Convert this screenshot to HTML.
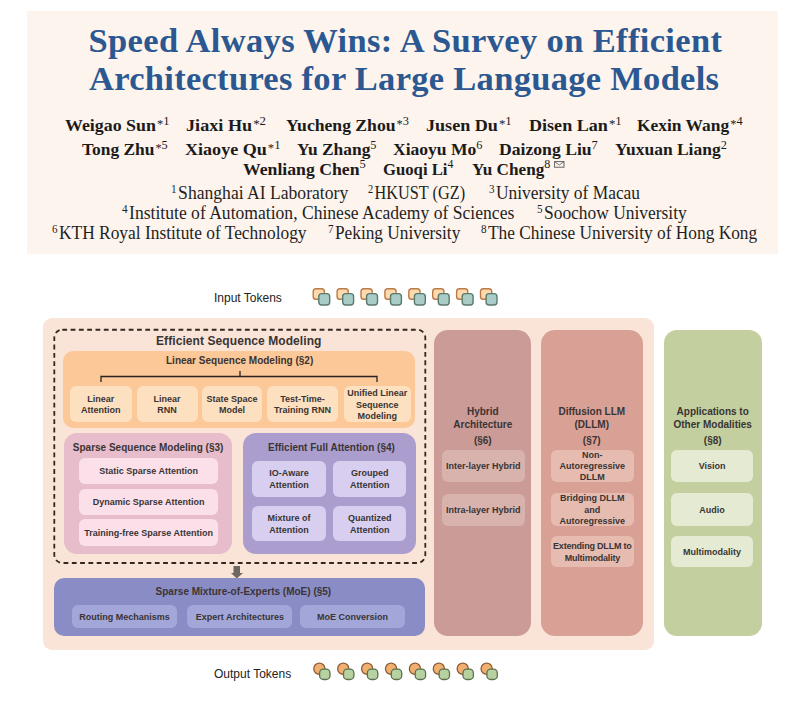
<!DOCTYPE html>
<html><head><meta charset="utf-8">
<style>
*{margin:0;padding:0;box-sizing:border-box}
html,body{width:800px;height:703px;overflow:hidden;background:#fff}
body{position:relative;font-family:"Liberation Sans",sans-serif}
.a{position:absolute}
.nw{white-space:nowrap}
#hdr{left:27px;top:11px;width:751px;height:243px;background:#fdf4ee}
.ttl{position:absolute;font-family:"Liberation Serif",serif;font-weight:bold;color:#2c5891;font-size:34px;line-height:40px;white-space:nowrap;letter-spacing:0.3px}
.au{position:absolute;font-family:"Liberation Serif",serif;font-weight:bold;color:#1b1b1b;font-size:17px;line-height:20px;white-space:nowrap;transform-origin:0 0}
.st{font-weight:normal;font-size:12px;position:relative;top:-3px;margin-left:1px}.sn{font-weight:normal;font-size:12px;position:relative;top:-6.3px}.sa{font-size:11.5px;position:relative;top:-6px;margin-right:1.5px}
.af{position:absolute;font-family:"Liberation Serif",serif;color:#1f1f1f;font-size:18px;line-height:20px;white-space:nowrap;transform-origin:0 0}
.box{position:absolute}
.tx{position:absolute;font-weight:bold;color:#3a3434;white-space:nowrap;text-align:center}
.it{position:absolute;display:flex;align-items:center;justify-content:center;text-align:center;font-weight:bold;font-size:9px;line-height:11.3px;color:#3a3434;border-radius:6px;padding-top:2px}
</style></head>
<body>
<div id="hdr" class="a"></div>
<div class="ttl" style="left:88.5px;top:20.2px;font-size:34.5px;letter-spacing:0.35px">Speed Always Wins: A Survey on Efficient</div>
<div class="ttl" style="left:89px;top:58px;font-size:34.5px;letter-spacing:0.29px">Architectures for Large Language Models</div>

<!-- authors -->
<div class="au" style="left:64.50px;top:116px;transform:scaleX(1.0515)">Weigao Sun<span class="st">*</span><span class="sn">1</span></div>
<div class="au" style="left:186.00px;top:116px;transform:scaleX(1.0685)">Jiaxi Hu<span class="st">*</span><span class="sn">2</span></div>
<div class="au" style="left:286.00px;top:116px;transform:scaleX(1.0363)">Yucheng Zhou<span class="st">*</span><span class="sn">3</span></div>
<div class="au" style="left:426.00px;top:116px;transform:scaleX(1.0641)">Jusen Du<span class="st">*</span><span class="sn">1</span></div>
<div class="au" style="left:529.00px;top:116px;transform:scaleX(1.0636)">Disen Lan<span class="st">*</span><span class="sn">1</span></div>
<div class="au" style="left:637.20px;top:116px;transform:scaleX(1.0255)">Kexin Wang<span class="st">*</span><span class="sn">4</span></div>
<div class="au" style="left:81.50px;top:139.8px;transform:scaleX(1.0241)">Tong Zhu<span class="st">*</span><span class="sn">5</span></div>
<div class="au" style="left:185.25px;top:139.8px;transform:scaleX(1.0626)">Xiaoye Qu<span class="st">*</span><span class="sn">1</span></div>
<div class="au" style="left:297.00px;top:139.8px;transform:scaleX(1.0231)">Yu Zhang<span class="sn">5</span></div>
<div class="au" style="left:392.75px;top:139.8px;transform:scaleX(1.0320)">Xiaoyu Mo<span class="sn">6</span></div>
<div class="au" style="left:499.00px;top:139.8px;transform:scaleX(1.0373)">Daizong Liu<span class="sn">7</span></div>
<div class="au" style="left:614.60px;top:139.8px;transform:scaleX(1.0269)">Yuxuan Liang<span class="sn">2</span></div>
<div class="au" style="left:242.75px;top:159.5px;transform:scaleX(1.0406)">Wenliang Chen<span class="sn">5</span></div>
<div class="au" style="left:382.75px;top:159.5px;transform:scaleX(0.9822)">Guoqi Li<span class="sn">4</span></div>
<div class="au" style="left:471.50px;top:159.5px;transform:scaleX(1.0080)">Yu Cheng<span class="sn">8</span></div>

<!-- affiliations -->
<div class="af" style="left:170.75px;top:182.8px;transform:scaleX(0.9779)"><span class="sa">1</span>Shanghai AI Laboratory</div>
<div class="af" style="left:368.00px;top:182.8px;transform:scaleX(0.9037)"><span class="sa">2</span>HKUST (GZ)</div>
<div class="af" style="left:488.90px;top:182.8px;transform:scaleX(0.9669)"><span class="sa">3</span>University of Macau</div>
<div class="af" style="left:122.00px;top:202.5px;transform:scaleX(0.9766)"><span class="sa">4</span>Institute of Automation, Chinese Academy of Sciences</div>
<div class="af" style="left:537.00px;top:202.5px;transform:scaleX(0.9675)"><span class="sa">5</span>Soochow University</div>
<div class="af" style="left:52.00px;top:223px;transform:scaleX(0.9656)"><span class="sa">6</span>KTH Royal Institute of Technology</div>
<div class="af" style="left:327.50px;top:223px;transform:scaleX(0.9606)"><span class="sa">7</span>Peking University</div>
<div class="af" style="left:480.80px;top:223px;transform:scaleX(0.9633)"><span class="sa">8</span>The Chinese University of Hong Kong</div>
<svg class="a" style="left:554px;top:161px" width="11" height="7" viewBox="0 0 11 7"><rect x="0.6" y="0.6" width="9.4" height="5.6" fill="none" stroke="#555" stroke-width="0.9"/><path d="M0.6 0.6 L5.3 4 L10 0.6" fill="none" stroke="#555" stroke-width="0.8"/></svg>

<!-- Input tokens -->
<div class="tx" style="left:214px;top:291.1px;font-size:12px;line-height:15px;font-weight:normal;color:#222">Input Tokens</div>
<svg class="a" style="left:0;top:0" width="800" height="703" viewBox="0 0 800 703">
<g><rect x="313.20" y="288.8" width="11.2" height="10.4" rx="2.8" fill="#fdd9ad" stroke="#bb7a48" stroke-width="1.4"/><rect x="318.80" y="293.6" width="10.9" height="11.4" rx="3" fill="#a9cdc6" stroke="#597a6f" stroke-width="1.4"/><rect x="337.10" y="288.8" width="11.2" height="10.4" rx="2.8" fill="#fdd9ad" stroke="#bb7a48" stroke-width="1.4"/><rect x="342.70" y="293.6" width="10.9" height="11.4" rx="3" fill="#a9cdc6" stroke="#597a6f" stroke-width="1.4"/><rect x="361.00" y="288.8" width="11.2" height="10.4" rx="2.8" fill="#fdd9ad" stroke="#bb7a48" stroke-width="1.4"/><rect x="366.60" y="293.6" width="10.9" height="11.4" rx="3" fill="#a9cdc6" stroke="#597a6f" stroke-width="1.4"/><rect x="384.90" y="288.8" width="11.2" height="10.4" rx="2.8" fill="#fdd9ad" stroke="#bb7a48" stroke-width="1.4"/><rect x="390.50" y="293.6" width="10.9" height="11.4" rx="3" fill="#a9cdc6" stroke="#597a6f" stroke-width="1.4"/><rect x="408.80" y="288.8" width="11.2" height="10.4" rx="2.8" fill="#fdd9ad" stroke="#bb7a48" stroke-width="1.4"/><rect x="414.40" y="293.6" width="10.9" height="11.4" rx="3" fill="#a9cdc6" stroke="#597a6f" stroke-width="1.4"/><rect x="432.70" y="288.8" width="11.2" height="10.4" rx="2.8" fill="#fdd9ad" stroke="#bb7a48" stroke-width="1.4"/><rect x="438.30" y="293.6" width="10.9" height="11.4" rx="3" fill="#a9cdc6" stroke="#597a6f" stroke-width="1.4"/><rect x="456.60" y="288.8" width="11.2" height="10.4" rx="2.8" fill="#fdd9ad" stroke="#bb7a48" stroke-width="1.4"/><rect x="462.20" y="293.6" width="10.9" height="11.4" rx="3" fill="#a9cdc6" stroke="#597a6f" stroke-width="1.4"/><rect x="480.50" y="288.8" width="11.2" height="10.4" rx="2.8" fill="#fdd9ad" stroke="#bb7a48" stroke-width="1.4"/><rect x="486.10" y="293.6" width="10.9" height="11.4" rx="3" fill="#a9cdc6" stroke="#597a6f" stroke-width="1.4"/></g>
</svg>

<!-- outer peach -->
<div class="box" style="left:43px;top:318px;width:610.8px;height:332px;background:#fae4d7;border-radius:9px"></div>
<svg class="a" style="left:0;top:0" width="800" height="703" viewBox="0 0 800 703">
<rect x="54.3" y="329.75" width="371" height="233.25" rx="8" ry="8" fill="none" stroke="#34271f" stroke-width="1.8" stroke-dasharray="4.8 3.5"/>
</svg>
<div class="tx" style="left:156px;top:333.3px;font-size:12px;line-height:16px;letter-spacing:0.08px">Efficient Sequence Modeling</div>

<!-- linear sequence -->
<div class="box" style="left:63px;top:351.3px;width:352.3px;height:76.8px;background:#fcc898;border-radius:10px"></div>
<div class="tx" style="left:166px;top:353.5px;font-size:10px;line-height:14px">Linear Sequence Modeling (§2)</div>
<svg class="a" style="left:0;top:0" width="800" height="703" viewBox="0 0 800 703">
<path d="M101 382 V376.5 H377 V382 M240 376.5 V371" fill="none" stroke="#2a2220" stroke-width="1.3"/>
</svg>
<div class="it" style="left:70.1px;top:386.3px;width:61.5px;height:35.7px;background:#fde0c0">Linear<br>Attention</div>
<div class="it" style="left:136.5px;top:386.3px;width:61.2px;height:35.7px;background:#fde0c0">Linear<br>RNN</div>
<div class="it" style="left:202.1px;top:386.3px;width:59.8px;height:35.7px;background:#fde0c0">State Space<br>Model</div>
<div class="it" style="left:267px;top:386.3px;width:71px;height:35.7px;background:#fde0c0">Test-Time-<br>Training RNN</div>
<div class="it" style="left:343.8px;top:386.3px;width:67px;height:35.7px;background:#fde0c0">Unified Linear<br>Sequence<br>Modeling</div>

<!-- sparse -->
<div class="box" style="left:63.6px;top:433px;width:168px;height:121px;background:#e7bccb;border-radius:13px"></div>
<div class="tx" style="left:72.8px;top:440.5px;font-size:10px;line-height:14px">Sparse Sequence Modeling (§3)</div>
<div class="it" style="left:78.8px;top:458px;width:139.7px;height:25.8px;background:#fbe0ea">Static Sparse Attention</div>
<div class="it" style="left:78.8px;top:488.8px;width:139.7px;height:26.2px;background:#fbe0ea">Dynamic Sparse Attention</div>
<div class="it" style="left:78.8px;top:519.2px;width:139.7px;height:26.8px;background:#fbe0ea">Training-free Sparse Attention</div>

<!-- full attention -->
<div class="box" style="left:242.6px;top:433px;width:173.8px;height:121px;background:#ab9ecf;border-radius:13px"></div>
<div class="tx" style="left:268px;top:441px;font-size:10px;line-height:14px">Efficient Full Attention (§4)</div>
<div class="it" style="left:252.3px;top:460.7px;width:73.5px;height:35.9px;background:#d8cff0">IO-Aware<br>Attention</div>
<div class="it" style="left:333.1px;top:460.7px;width:73.3px;height:35.9px;background:#d8cff0">Grouped<br>Attention</div>
<div class="it" style="left:252.3px;top:505.8px;width:73.5px;height:35.5px;background:#d8cff0">Mixture of<br>Attention</div>
<div class="it" style="left:333.1px;top:505.8px;width:73.3px;height:35.5px;background:#d8cff0">Quantized<br>Attention</div>

<!-- arrow -->
<svg class="a" style="left:0;top:0" width="800" height="703" viewBox="0 0 800 703">
<path d="M233.5 566 H240 V573 H243 L236.75 578.5 L231 573 H233.5 Z" fill="#6e6660"/>
</svg>

<!-- MoE -->
<div class="box" style="left:54px;top:578.2px;width:370.7px;height:57.9px;background:#8a8cc6;border-radius:10px"></div>
<div class="tx" style="left:155.6px;top:584.5px;font-size:10px;line-height:14px">Sparse Mixture-of-Experts (MoE) (§5)</div>
<div class="it" style="left:71.9px;top:605.2px;width:105.4px;height:22.5px;background:#a3a6d8">Routing Mechanisms</div>
<div class="it" style="left:187.4px;top:605.2px;width:104.9px;height:22.5px;background:#a3a6d8">Expert Architectures</div>
<div class="it" style="left:300.3px;top:605.2px;width:104.4px;height:22.5px;background:#a3a6d8">MoE Conversion</div>

<!-- hybrid -->
<div class="box" style="left:434.2px;top:330px;width:97.2px;height:306px;background:#cb9b97;border-radius:14px"></div>
<div class="tx" style="left:434.2px;width:97.2px;top:406.3px;font-size:10px;line-height:12.6px">Hybrid<br>Architecture</div>
<div class="tx" style="left:434.2px;width:97.2px;top:434.3px;font-size:10px;line-height:13px">(§6)</div>
<div class="it" style="left:441.6px;top:450px;width:83.4px;height:31.5px;background:#d8b3ae">Inter-layer Hybrid</div>
<div class="it" style="left:441.6px;top:493.5px;width:83.4px;height:32.1px;background:#d8b3ae">Intra-layer Hybrid</div>

<!-- diffusion -->
<div class="box" style="left:541px;top:330px;width:101.5px;height:306px;background:#d9a195;border-radius:14px"></div>
<div class="tx" style="left:541px;width:101.5px;top:406.3px;font-size:10px;line-height:12.6px">Diffusion LLM<br>(DLLM)</div>
<div class="tx" style="left:541px;width:101.5px;top:434.3px;font-size:10px;line-height:13px">(§7)</div>
<div class="it" style="left:551.1px;top:450px;width:82.5px;height:31.5px;background:#e6bbb0">Non-<br>Autoregressive<br>DLLM</div>
<div class="it" style="left:551.1px;top:492.9px;width:82.5px;height:32.7px;background:#e6bbb0">Bridging DLLM<br>and<br>Autoregressive</div>
<div class="it" style="left:551.1px;top:536.1px;width:82.5px;height:30.9px;background:#e6bbb0;letter-spacing:-0.2px">Extending DLLM to<br>Multimodality</div>

<!-- green -->
<div class="box" style="left:663.5px;top:330px;width:98.4px;height:306px;background:#c3cf9e;border-radius:13px"></div>
<div class="tx" style="left:663.5px;width:98.4px;top:406.3px;font-size:10px;line-height:12.6px">Applications to<br>Other Modalities</div>
<div class="tx" style="left:663.5px;width:98.4px;top:434.3px;font-size:10px;line-height:13px">(§8)</div>
<div class="it" style="left:670.8px;top:450px;width:82.6px;height:31.5px;background:#e5ead3">Vision</div>
<div class="it" style="left:670.8px;top:492.8px;width:82.6px;height:32.8px;background:#e5ead3">Audio</div>
<div class="it" style="left:670.8px;top:535.8px;width:82.6px;height:31.2px;background:#e5ead3">Multimodality</div>

<!-- output tokens -->
<div class="tx" style="left:214px;top:666.5px;font-size:12px;line-height:15px;font-weight:normal;color:#222">Output Tokens</div>
<svg class="a" style="left:0;top:0" width="800" height="703" viewBox="0 0 800 703">
<g><circle cx="319.35" cy="668.75" r="5.6" fill="#f0b070" stroke="#8b5a36" stroke-width="1.3"/><rect x="319.60" y="669.1" width="10.4" height="10.4" rx="3.8" fill="#b8d1a0" stroke="#5b7150" stroke-width="1.3"/><circle cx="343.25" cy="668.75" r="5.6" fill="#f0b070" stroke="#8b5a36" stroke-width="1.3"/><rect x="343.50" y="669.1" width="10.4" height="10.4" rx="3.8" fill="#b8d1a0" stroke="#5b7150" stroke-width="1.3"/><circle cx="367.15" cy="668.75" r="5.6" fill="#f0b070" stroke="#8b5a36" stroke-width="1.3"/><rect x="367.40" y="669.1" width="10.4" height="10.4" rx="3.8" fill="#b8d1a0" stroke="#5b7150" stroke-width="1.3"/><circle cx="391.05" cy="668.75" r="5.6" fill="#f0b070" stroke="#8b5a36" stroke-width="1.3"/><rect x="391.30" y="669.1" width="10.4" height="10.4" rx="3.8" fill="#b8d1a0" stroke="#5b7150" stroke-width="1.3"/><circle cx="414.95" cy="668.75" r="5.6" fill="#f0b070" stroke="#8b5a36" stroke-width="1.3"/><rect x="415.20" y="669.1" width="10.4" height="10.4" rx="3.8" fill="#b8d1a0" stroke="#5b7150" stroke-width="1.3"/><circle cx="438.85" cy="668.75" r="5.6" fill="#f0b070" stroke="#8b5a36" stroke-width="1.3"/><rect x="439.10" y="669.1" width="10.4" height="10.4" rx="3.8" fill="#b8d1a0" stroke="#5b7150" stroke-width="1.3"/><circle cx="462.75" cy="668.75" r="5.6" fill="#f0b070" stroke="#8b5a36" stroke-width="1.3"/><rect x="463.00" y="669.1" width="10.4" height="10.4" rx="3.8" fill="#b8d1a0" stroke="#5b7150" stroke-width="1.3"/><circle cx="486.65" cy="668.75" r="5.6" fill="#f0b070" stroke="#8b5a36" stroke-width="1.3"/><rect x="486.90" y="669.1" width="10.4" height="10.4" rx="3.8" fill="#b8d1a0" stroke="#5b7150" stroke-width="1.3"/></g>
</svg>
</body></html>
